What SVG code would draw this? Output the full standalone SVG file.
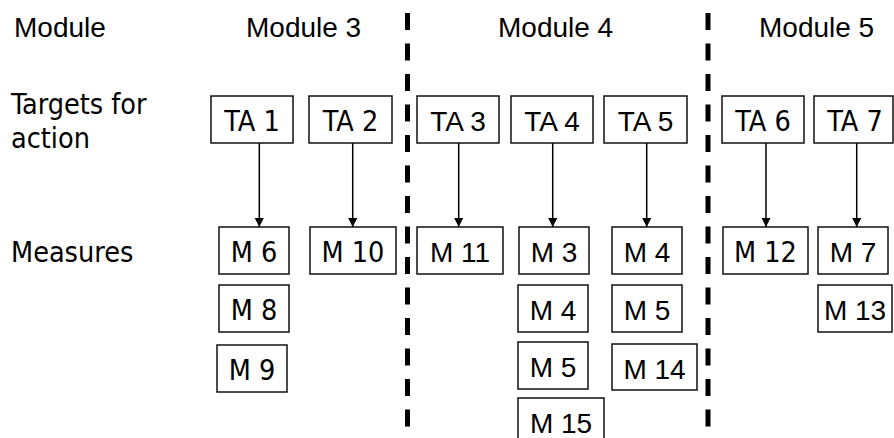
<svg xmlns="http://www.w3.org/2000/svg" width="894" height="438" viewBox="0 0 894 438">
<defs>
<style>
.box{fill:#fff;stroke:#111;stroke-width:1.5}
.t{font-family:"DejaVu Sans Condensed","DejaVu Sans",sans-serif;font-stretch:condensed;font-size:28.5px;fill:#000}
.a{font-family:"Liberation Sans",Arial,sans-serif;font-size:28px;fill:#000}
.c{text-anchor:middle}
.div{stroke:#000;stroke-width:5;stroke-dasharray:17 13.5}
.arr{stroke:#000;stroke-width:1.5;fill:none;marker-end:url(#ah)}
</style>
<marker id="ah" viewBox="0 0 10 10" refX="10" refY="5" markerWidth="9" markerHeight="9" markerUnits="userSpaceOnUse" orient="auto">
<path d="M0,0 L10,5 L0,10 z" fill="#000"/>
</marker>
</defs>
<rect width="894" height="438" fill="#fff"/>
<g id="labels">
<text class="a" x="14" y="37">Module</text>
<text class="a" x="246" y="37">Module 3</text>
<text class="a" x="498" y="37">Module 4</text>
<text class="a" x="759" y="37">Module 5</text>
<text class="t" x="11" y="114">Targets for</text>
<text class="t" x="11" y="148">action</text>
<text class="t" x="11" y="262">Measures</text>
</g>
<g id="dividers">
<line class="div" x1="407.5" y1="13" x2="407.5" y2="438"/>
<line class="div" x1="708" y1="13" x2="708" y2="438"/>
</g>
<g id="connectors">
<line class="arr" x1="259.3" y1="143" x2="259.3" y2="227"/>
<line class="arr" x1="352.7" y1="143" x2="352.7" y2="227"/>
<line class="arr" x1="458.7" y1="143" x2="458.7" y2="227"/>
<line class="arr" x1="552.7" y1="143" x2="552.7" y2="227"/>
<line class="arr" x1="646.7" y1="143" x2="646.7" y2="227"/>
<line class="arr" x1="766" y1="143" x2="766" y2="227"/>
<line class="arr" x1="856.7" y1="143" x2="856.7" y2="227"/>
</g>
<g id="TA1"><rect class="box" x="211" y="96" width="82" height="47"/><text class="t c" x="252" y="131">TA 1</text></g>
<g id="TA2"><rect class="box" x="309" y="96" width="83" height="47"/><text class="t c" x="350.5" y="131">TA 2</text></g>
<g id="TA3"><rect class="box" x="417" y="96" width="82" height="47"/><text class="a c" x="458" y="131">TA 3</text></g>
<g id="TA4"><rect class="box" x="511" y="96" width="82" height="47"/><text class="a c" x="552" y="131">TA 4</text></g>
<g id="TA5"><rect class="box" x="604" y="96" width="83" height="47"/><text class="a c" x="645.5" y="131">TA 5</text></g>
<g id="TA6"><rect class="box" x="722" y="96" width="82" height="47"/><text class="t c" x="763" y="131">TA 6</text></g>
<g id="TA7"><rect class="box" x="814" y="96" width="79" height="47"/><text class="t c" x="855" y="131">TA 7</text></g>
<g id="M6"><rect class="box" x="219" y="227" width="70" height="47"/><text class="t c" x="254" y="262">M 6</text></g>
<g id="M10"><rect class="box" x="310" y="227" width="86" height="47"/><text class="t c" x="353" y="262">M 10</text></g>
<g id="M11"><rect class="box" x="417" y="227" width="86" height="47"/><text class="a c" x="460" y="262">M 11</text></g>
<g id="M3"><rect class="box" x="519" y="227" width="70" height="47"/><text class="a c" x="554" y="262">M 3</text></g>
<g id="M4a"><rect class="box" x="612" y="227" width="70" height="47"/><text class="a c" x="647" y="262">M 4</text></g>
<g id="M12"><rect class="box" x="723" y="227" width="85" height="47"/><text class="t c" x="765.5" y="262">M 12</text></g>
<g id="M7"><rect class="box" x="818" y="227" width="70" height="47"/><text class="a c" x="853" y="262">M 7</text></g>
<g id="M8"><rect class="box" x="219" y="285" width="70" height="47"/><text class="t c" x="254" y="320">M 8</text></g>
<g id="M4b"><rect class="box" x="518" y="285" width="70" height="47"/><text class="a c" x="553" y="320">M 4</text></g>
<g id="M5b"><rect class="box" x="612" y="285" width="70" height="47"/><text class="a c" x="647" y="320">M 5</text></g>
<g id="M13"><rect class="box" x="818" y="285" width="74" height="47"/><text class="a c" x="855" y="320">M 13</text></g>
<g id="M9"><rect class="box" x="217" y="345" width="70" height="47"/><text class="t c" x="252" y="380">M 9</text></g>
<g id="M5c"><rect class="box" x="518" y="342" width="70" height="47"/><text class="a c" x="553" y="377">M 5</text></g>
<g id="M14"><rect class="box" x="612" y="344" width="85" height="46"/><text class="a c" x="654.5" y="379">M 14</text></g>
<g id="M15"><rect class="box" x="518" y="398" width="86" height="47"/><text class="a c" x="561" y="433">M 15</text></g>
</svg>
